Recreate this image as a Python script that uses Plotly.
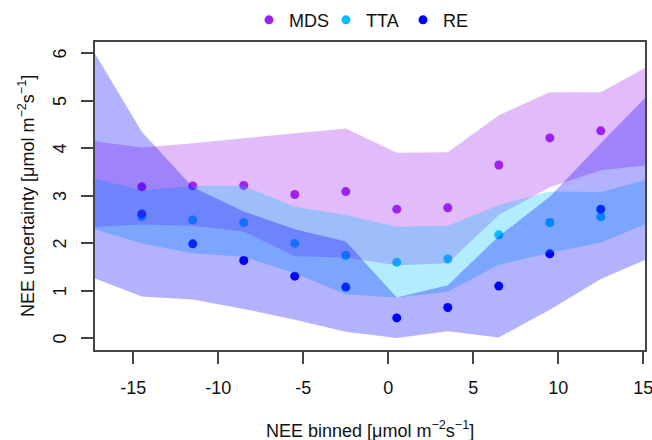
import plotly.graph_objects as go

# bin centres of NEE [umol m-2 s-1]
nee_bins = [-14.5, -11.5, -8.5, -5.5, -2.5, 0.5, 3.5, 6.5, 9.5, 12.5]
x_min, x_max = -17.25, 15.1

# median uncertainty per bin
mds_med = [3.19, 3.21, 3.22, 3.03, 3.09, 2.72, 2.75, 3.65, 4.22, 4.37]
tta_med = [2.56, 2.49, 2.44, 2.00, 1.75, 1.60, 1.67, 2.18, 2.44, 2.56]
re_med = [2.62, 1.99, 1.64, 1.31, 1.08, 0.43, 0.65, 1.10, 1.78, 2.72]

# band edges, first/last value sit on the plot border
mds_hi = [4.15, 4.02, 4.11, 4.21, 4.32, 4.42, 3.91, 3.92, 4.70, 5.18, 5.18, 5.69]
mds_lo = [2.35, 2.40, 2.37, 2.25, 1.73, 1.70, 1.54, 1.58, 2.60, 3.18, 3.54, 3.64]
tta_hi = [3.36, 3.12, 3.21, 3.21, 2.77, 2.60, 2.35, 2.37, 2.81, 3.09, 3.08, 3.33]
tta_lo = [2.30, 2.00, 1.79, 1.72, 1.37, 0.93, 0.86, 0.98, 1.55, 1.80, 2.02, 2.40]
re_hi = [6.00, 4.35, 3.18, 2.67, 2.30, 2.04, 0.86, 1.12, 2.15, 2.98, 4.11, 5.06]
re_lo = [1.26, 0.88, 0.82, 0.62, 0.39, 0.14, 0.01, 0.15, 0.02, 0.60, 1.25, 1.65]

x_ticks = [-15, -10, -5, 0, 5, 10, 15]
y_ticks = [0, 1, 2, 3, 4, 5, 6]

x_band = [x_min] + nee_bins + [x_max]

methods = ["MDS", "TTA", "RE"]
colors = {"MDS": "#A020F0", "TTA": "#00BFFF", "RE": "#0000FF"}
fills = {"MDS": "rgba(160,32,240,0.3)", "TTA": "rgba(0,191,255,0.3)", "RE": "rgba(0,0,255,0.3)"}
meds = {"MDS": mds_med, "TTA": tta_med, "RE": re_med}
bands = {"MDS": (mds_hi, mds_lo), "TTA": (tta_hi, tta_lo), "RE": (re_hi, re_lo)}

font = "Liberation Sans, Arial, sans-serif"
fs = 18
txt = dict(family=font, size=fs, color="#111")

fig = go.Figure()

# points first, the bands are laid over them
for m in methods:
    fig.add_trace(go.Scatter(x=nee_bins, y=meds[m], mode="markers", name=m,
                             marker=dict(color=colors[m], size=9, line=dict(width=0))))

for m in methods:
    hi, lo = bands[m]
    fig.add_trace(go.Scatter(x=x_band + x_band[::-1], y=hi + lo[::-1],
                             mode="lines", fill="toself", fillcolor=fills[m],
                             line=dict(width=0), showlegend=False, hoverinfo="skip"))

axis_common = dict(showgrid=False, zeroline=False, showline=True, mirror=True,
                   linecolor="#444", linewidth=1.5, ticks="outside", ticklen=12,
                   tickwidth=1.5, tickcolor="#444", tickfont=txt)

fig.update_xaxes(range=[x_min, x_max], tickvals=x_ticks,
                 ticktext=[str(v) for v in x_ticks], ticklabeloverflow="allow",
                 ticklabelstandoff=9, **axis_common)
fig.update_yaxes(range=[-0.245, 6.24], tickvals=y_ticks, showticklabels=False,
                 **axis_common)

# R style y labels, turned along the axis
for v in y_ticks:
    fig.add_annotation(text=str(v), x=-0.0636, y=v, xref="paper", yref="y",
                       showarrow=False, textangle=-90, xanchor="center",
                       yanchor="middle", font=txt)

fig.add_annotation(text="NEE binned [μmol m<sup>−2</sup>s<sup>−1</sup>]",
                   x=0.5, y=-0.214, xref="paper", yref="paper", showarrow=False,
                   xanchor="center", yanchor="top", font=txt)
fig.add_annotation(text="NEE uncertainty [μmol m<sup>−2</sup>s<sup>−1</sup>]",
                   x=-0.1255, y=0.5, xref="paper", yref="paper", showarrow=False,
                   textangle=-90, xanchor="center", yanchor="middle", font=txt)

fig.update_layout(
    width=652, height=440,
    margin=dict(l=95, r=7, t=42, b=90, autoexpand=False),
    plot_bgcolor="white", paper_bgcolor="white",
    legend=dict(orientation="h", x=0.28, xanchor="left", y=1.071, yanchor="middle",
                font=txt, itemwidth=30, entrywidth=32, entrywidthmode="pixels",
                tracegroupgap=0, bgcolor="rgba(0,0,0,0)"),
    showlegend=True,
)

fig.write_html("out.html", config={"displayModeBar": False},
               post_script="document.body.style.margin='0px';")
